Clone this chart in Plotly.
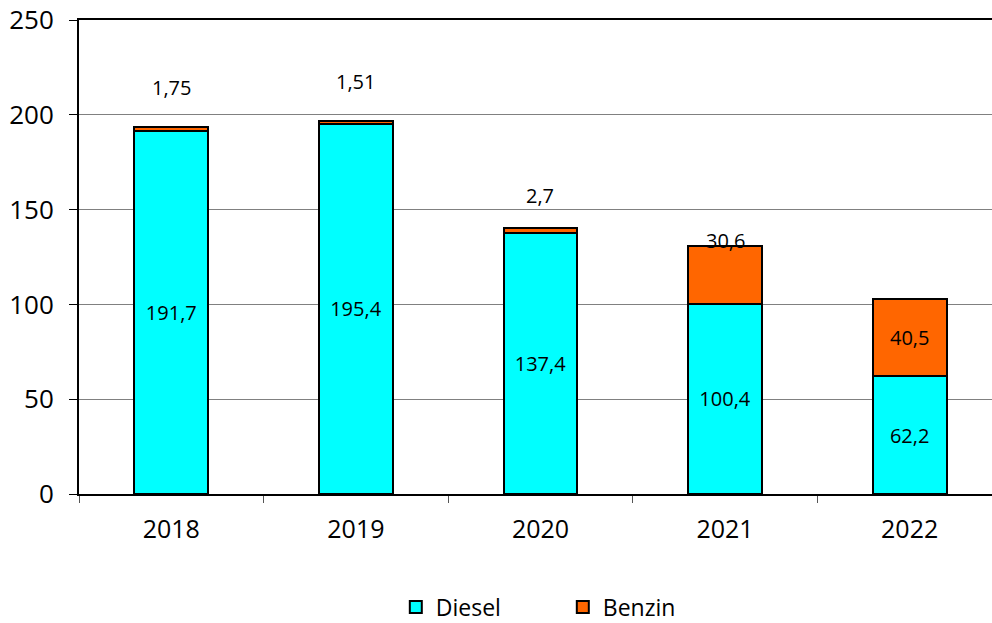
import plotly.graph_objects as go

years = ["2018", "2019", "2020", "2021", "2022"]
diesel = [191.7, 195.4, 137.4, 100.4, 62.2]
benzin = [1.75, 1.51, 2.7, 30.6, 40.5]
diesel_labels = ["191,7", "195,4", "137,4", "100,4", "62,2"]
benzin_labels = ["1,75", "1,51", "2,7", "30,6", "40,5"]

FONT = "Open Sans"
LBL = 20
fig = go.Figure()
fig.add_trace(go.Bar(
    x=years, y=diesel, name="Diesel", width=0.4,
    marker=dict(color="#00FFFF", line=dict(color="black", width=2)),
    text=diesel_labels, textposition="inside", insidetextanchor="middle",
    textfont=dict(family=FONT, size=LBL, color="black"), textangle=0,
))
fig.add_trace(go.Bar(
    x=years, y=benzin, name="Benzin", width=0.4,
    marker=dict(color="#FF6600", line=dict(color="black", width=2)),
))

# Benzin value labels: small segments labelled above the bar, large ones inside
label_shift = [40, 39, 33, 5, 0]
for i, yr in enumerate(years):
    top = diesel[i] + benzin[i]
    if i == len(years) - 1:
        ypos = diesel[i] + benzin[i] / 2
    else:
        ypos = top
    fig.add_annotation(x=i, y=ypos, text=benzin_labels[i], showarrow=False,
                       yshift=label_shift[i], font=dict(family=FONT, size=LBL, color="black"))

fig.update_layout(
    barmode="stack",
    width=992, height=623,
    margin=dict(l=79, r=0, t=20, b=129, autoexpand=False),
    plot_bgcolor="white", paper_bgcolor="white",
    font=dict(family=FONT, color="black"),
    showlegend=True,
    legend=dict(orientation="h", x=0.347, xanchor="left",
                yref="container", y=1 - 607 / 623, yanchor="middle",
                font=dict(family=FONT, size=23), entrywidth=122, itemwidth=30,
                traceorder="normal"),
)
fig.update_xaxes(
    type="category",
    range=[-0.5, 4.446], showline=True, linecolor="black", linewidth=2, mirror=True,
    ticks="outside", tickson="boundaries", ticklen=7, tickcolor="#555555",
    tickfont=dict(family=FONT, size=25), showgrid=False, ticklabelstandoff=12,
)
fig.update_yaxes(
    range=[0, 250], dtick=50, showline=True, linecolor="black", linewidth=2,
    ticks="outside", ticklen=8, tickcolor="black",
    showgrid=True, gridcolor="#808080", gridwidth=1,
    tickfont=dict(family=FONT, size=26), zeroline=False, ticklabelstandoff=10,
)
fig.write_html("out.html", config={"displayModeBar": False},
               post_script="document.body.style.margin='0';")
